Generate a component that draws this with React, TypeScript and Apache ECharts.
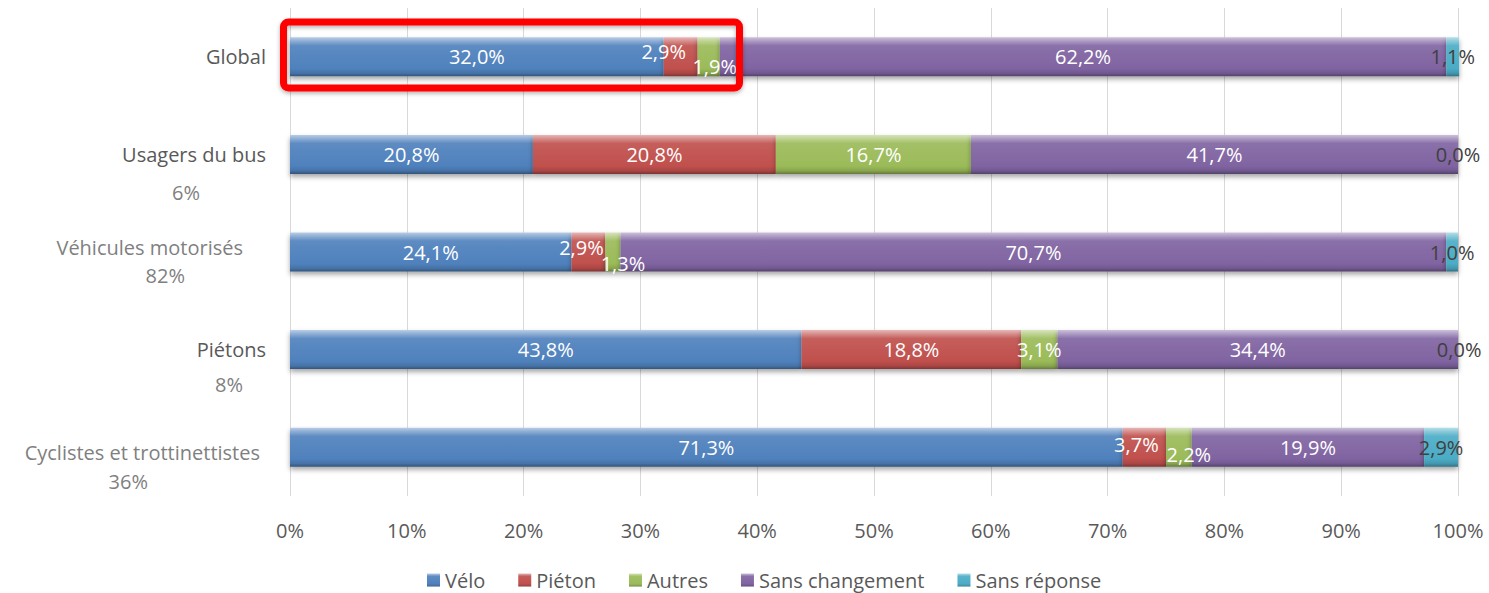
import React, { useEffect, useRef } from "react";
import * as echarts from "echarts";

const categories = ["Global", "Usagers du bus", "Véhicules motorisés", "Piétons", "Cyclistes et trottinettistes"];
const shares = ["", "6%", "82%", "8%", "36%"];
const seriesNames = ["Vélo", "Piéton", "Autres", "Sans changement", "Sans réponse"];
const velo = [32.0, 20.8, 24.1, 43.8, 71.3];
const pieton = [2.9, 20.8, 2.9, 18.8, 3.7];
const autres = [1.9, 16.7, 1.3, 3.1, 2.2];
const sansChangement = [62.2, 41.7, 70.7, 34.4, 19.9];
const sansReponse = [1.1, 0.0, 1.0, 0.0, 2.9];
const xTicks = [0, 10, 20, 30, 40, 50, 60, 70, 80, 90, 100];

const seriesValues = [velo, pieton, autres, sansChangement, sansReponse];
const baseColors = ["#4F81BD", "#C0504D", "#9BBB59", "#8064A2", "#4BACC6"];
const labelColors = ["#ffffff", "#ffffff", "#ffffff", "#ffffff", "#404040"];

// label nudges for small segments (series index - category index)
const labelOffsets: Record<string, [number, number]> = {
  "1-0": [-17, -5],
  "2-0": [6, 10],
  "1-2": [-7, -5],
  "2-2": [10, 11],
  "1-4": [-8, -3],
  "2-4": [10, 7],
};

// y-axis label layout
const yLabelLayout = [
  { color: "#595959", namePad: 0, sharePad: 0, P: 0, G: 0 },
  { color: "#595959", namePad: 0, sharePad: 66, P: 54, G: 54 },
  { color: "#7f7f7f", namePad: 23, sharePad: 81, P: 34, G: 24 },
  { color: "#595959", namePad: 0, sharePad: 23, P: 48, G: 48 },
  { color: "#7f7f7f", namePad: 6, sharePad: 118, P: 36, G: 46 },
];

const FONT = "'Open Sans', sans-serif";

function shade(hex: string, amt: number) {
  const n = parseInt(hex.slice(1), 16);
  let r = (n >> 16) & 255, g = (n >> 8) & 255, b = n & 255;
  const t = amt > 0 ? 255 : 0;
  const a = Math.abs(amt);
  r = Math.round(r + (t - r) * a);
  g = Math.round(g + (t - g) * a);
  b = Math.round(b + (t - b) * a);
  return `rgb(${r},${g},${b})`;
}

function bevel(base: string) {
  return new echarts.graphic.LinearGradient(0, 0, 0, 1, [
    { offset: 0, color: shade(base, 0.6) },
    { offset: 0.1, color: shade(base, 0.35) },
    { offset: 0.22, color: shade(base, 0.08) },
    { offset: 0.8, color: base },
    { offset: 0.92, color: shade(base, -0.12) },
    { offset: 1, color: shade(base, -0.35) },
  ]);
}

const fmt = (v: number) => v.toFixed(1).replace(".", ",") + "%";

export default function App() {
  const ref = useRef<HTMLDivElement>(null);
  useEffect(() => {
    if (!ref.current) return;
    const chart = echarts.init(ref.current, undefined, { renderer: "svg" });

    const rich: Record<string, any> = {};
    yLabelLayout.forEach((l, i) => {
      rich["n" + i] = { fontFamily: FONT, fontSize: 20, color: l.color, lineHeight: 22, padding: [0, l.namePad, 0, 0] };
      rich["p" + i] = { fontFamily: FONT, fontSize: 20, color: "#7f7f7f", lineHeight: l.P, padding: [0, l.sharePad, 0, 0] };
      rich["g" + i] = { fontFamily: FONT, fontSize: 10, lineHeight: l.G };
    });

    const series = seriesNames.map((name, si) => ({
      name,
      type: "bar",
      stack: "total",
      barWidth: "40%",
      clip: si !== seriesNames.length - 1,
      itemStyle: {
        color: bevel(baseColors[si]),
        shadowColor: "rgba(0,0,0,0.35)",
        shadowBlur: 5,
        shadowOffsetY: 3,
      },
      label: {
        show: true,
        position: "inside",
        fontFamily: FONT,
        fontSize: 20,
        color: labelColors[si],
        formatter: (p: any) => fmt(p.value),
      },
      data: seriesValues[si].map((v, ci) => {
        const off = labelOffsets[si + "-" + ci];
        return off ? { value: v, label: { offset: off } } : { value: v };
      }),
    }));

    chart.setOption({
      animation: false,
      grid: { left: 290, right: 31, top: 8, bottom: 97, containLabel: false },
      legend: {
        left: 427,
        top: 570,
        padding: 0,
        itemWidth: 13,
        itemHeight: 13,
        itemGap: 33,
        textStyle: { fontFamily: FONT, fontSize: 20, lineHeight: 20, color: "#595959" },
        data: seriesNames.map((n) => ({ name: n, icon: "rect" })),
      },
      xAxis: {
        type: "value",
        min: 0,
        max: 100,
        interval: 10,
        axisLine: { show: false },
        axisTick: { show: false },
        splitLine: { lineStyle: { color: "#d9d9d9", width: 1 } },
        axisLabel: {
          margin: 24,
          fontFamily: FONT,
          fontSize: 20,
          color: "#595959",
          formatter: (v: number) => (xTicks.includes(v) ? v + "%" : ""),
        },
      },
      yAxis: {
        type: "category",
        inverse: true,
        data: categories,
        axisLine: { show: false },
        axisTick: { show: false },
        axisLabel: {
          margin: 24,
          fontFamily: FONT,
          fontSize: 20,
          align: "right",
          rich,
          formatter: (value: string, idx: number) => {
            if (!shares[idx]) return `{n${idx}|${value}}`;
            return `{g${idx}| }\n{n${idx}|${value}}\n{p${idx}|${shares[idx]}}`;
          },
        },
      },
      graphic: [
        {
          type: "rect",
          z: 100,
          shape: { x: 283.5, y: 22, width: 456, height: 66, r: 5 },
          style: { fill: "none", stroke: "#ff0000", lineWidth: 7, shadowColor: "rgba(0,0,0,0.3)", shadowBlur: 4, shadowOffsetY: 2 },
        },
      ],
      series,
    });
    return () => chart.dispose();
  }, []);
  return <div ref={ref} style={{ position: "absolute", left: 0, top: 0, width: 1489, height: 593 }} />;
}
